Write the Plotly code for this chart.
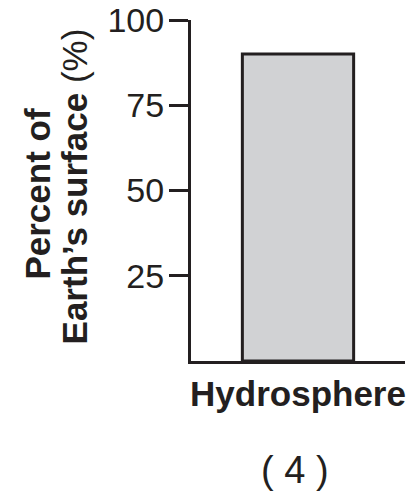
import plotly.graph_objects as go

categories = ["Hydrosphere"]
values = [90]
y_ticks = [25, 50, 75, 100]
y_title_lines = ["<b>Percent of</b>", "<b>Earth’s surface</b> (%)"]
option_label = "( 4 )"

ink = "#231f20"
font = "Liberation Sans, Arial, sans-serif"

fig = go.Figure(go.Bar(
    x=categories, y=values, width=0.52,
    marker=dict(color="#d1d2d4", line=dict(color=ink, width=3)),
))

# page body has an 8px default margin; figure offset compensates for it
fig.update_layout(
    width=411, height=487,
    margin=dict(l=183, r=14, t=12, b=134),
    paper_bgcolor="white", plot_bgcolor="white",
    showlegend=False,
    font=dict(family=font, color=ink),
)
fig.update_xaxes(
    range=[-0.5, 0.5], showline=True, linecolor=ink, linewidth=3,
    showgrid=False, ticks="", tickfont=dict(size=35, family=font, color=ink),
    tickprefix="<b>", ticksuffix="</b>", ticklabelstandoff=0, automargin=False,
    ticklabeloverflow="allow",
)
fig.update_yaxes(
    range=[0, 100], showline=True, linecolor=ink, linewidth=3,
    showgrid=False, zeroline=False, tickvals=y_ticks,
    ticks="outside", ticklen=19, tickwidth=3, tickcolor=ink,
    tickfont=dict(size=34, family=font, color=ink), ticklabelstandoff=-2,
    automargin=False, ticklabeloverflow="allow",
)
for txt, xp, yp in zip(y_title_lines, [-0.715, -0.545], [0.491, 0.513]):
    fig.add_annotation(
        text=txt, xref="paper", yref="paper", x=xp, y=yp, textangle=-90,
        xanchor="center", yanchor="middle", showarrow=False,
        font=dict(size=35, family=font, color=ink),
    )
fig.add_annotation(
    text=option_label, xref="paper", yref="paper", x=0.485, y=-0.32,
    xanchor="center", yanchor="middle", showarrow=False,
    font=dict(size=38, family=font, color=ink),
)
fig.write_html("out.html")
